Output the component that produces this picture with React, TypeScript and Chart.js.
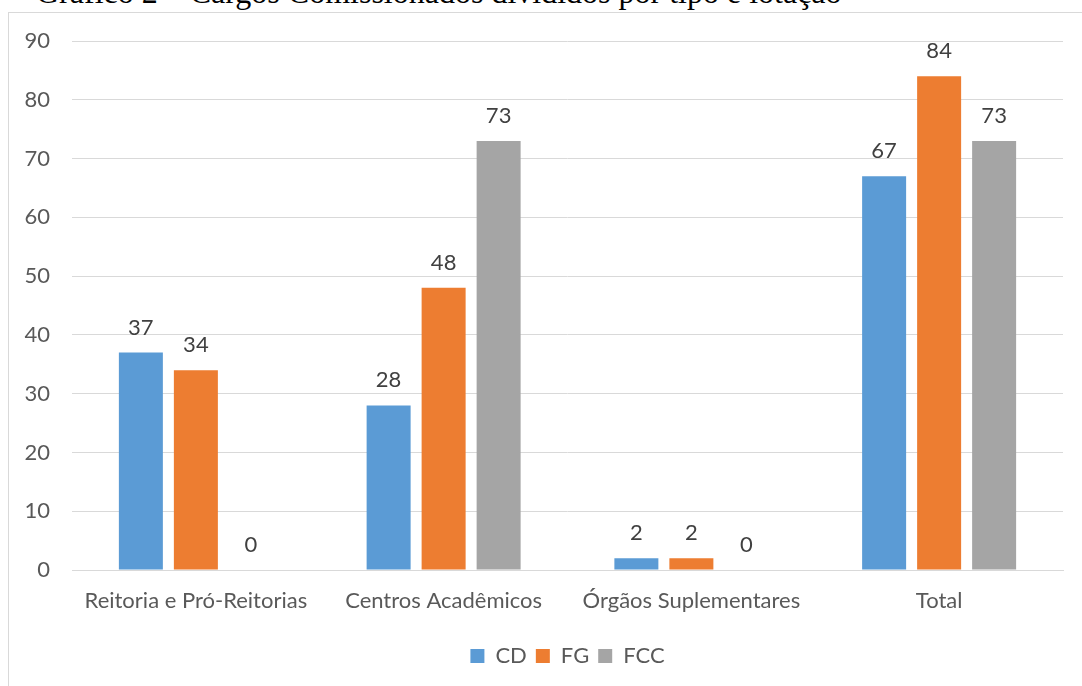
import React, { useEffect, useRef } from "react";
import { Chart, registerables } from "chart.js";

Chart.register(...registerables);

const categories = ["Reitoria e Pró-Reitorias", "Centros Acadêmicos", "Órgãos Suplementares", "Total"];
const cdValues = [37, 28, 2, 67];
const fgValues = [34, 48, 2, 84];
const fccValues = [0, 73, 0, 73];
const seriesNames = ["CD", "FG", "FCC"];
const seriesColors = ["#5B9BD5", "#ED7D31", "#A5A5A5"];
const titleText = "Gráfico 2 – Cargos Comissionados divididos por tipo e lotação";

const FONT = "Lato, 'Open Sans', sans-serif";

const valueLabels = {
  id: "valueLabels",
  afterDatasetsDraw(chart: any) {
    const ctx = chart.ctx;
    ctx.save();
    ctx.font = `22px ${FONT}`;
    ctx.fillStyle = "#404040";
    ctx.textAlign = "center";
    ctx.textBaseline = "alphabetic";
    chart.data.datasets.forEach((ds: any, i: number) => {
      const meta = chart.getDatasetMeta(i);
      meta.data.forEach((bar: any, j: number) => {
        ctx.fillText(String(ds.data[j]), bar.x, bar.y - 18);
      });
    });
    ctx.restore();
  },
};

export default function App() {
  const ref = useRef<HTMLCanvasElement>(null);
  useEffect(() => {
    if (!ref.current) return;
    const chart = new Chart(ref.current, {
      type: "bar",
      data: {
        labels: categories,
        datasets: [cdValues, fgValues, fccValues].map((d, i) => ({
          label: seriesNames[i],
          data: d,
          backgroundColor: seriesColors[i],
          borderWidth: 0,
          barPercentage: 0.8,
          categoryPercentage: 0.666,
        })),
      },
      options: {
        animation: false,
        responsive: false,
        maintainAspectRatio: false,
        layout: { padding: { top: 41, right: 19, bottom: 9, left: 0 } },
        plugins: {
          legend: {
            position: "bottom",
            fullSize: false,
            labels: {
              boxWidth: 14,
              boxHeight: 14,
              padding: 9,
              color: "#595959",
              font: { family: FONT, size: 22 },
            },
          },
          tooltip: { enabled: false },
        },
        scales: {
          x: {
            grid: { display: false, drawTicks: false },
            border: { display: true, color: "#D9D9D9", width: 1 },
            ticks: { color: "#595959", font: { family: FONT, size: 22 }, padding: 18 },
            afterFit: (s: any) => {
              s.height = 66;
            },
          },
          y: {
            min: 0,
            max: 90,
            ticks: { stepSize: 10, color: "#595959", font: { family: FONT, size: 22 }, padding: 22 },
            grid: { color: "#D9D9D9", drawTicks: false },
            border: { display: false },
            afterFit: (s: any) => {
              s.width = 72;
            },
          },
        },
      },
      plugins: [valueLabels],
    });
    return () => chart.destroy();
  }, []);

  return (
    <div style={{ position: "absolute", left: 0, top: 0, width: 1082, height: 686, overflow: "hidden", background: "#fff" }}>
      <div
        style={{
          position: "absolute",
          left: 36,
          top: -24.5,
          fontFamily: "'Liberation Serif', 'Times New Roman', serif",
          fontSize: 32,
          lineHeight: "32px",
          color: "#000",
          whiteSpace: "nowrap",
        }}
      >
        {titleText}
      </div>
      <div
        style={{
          position: "absolute",
          left: 8,
          top: 12,
          width: 1100,
          height: 700,
          border: "1px solid #D9D9D9",
          boxSizing: "border-box",
        }}
      />
      <canvas ref={ref} width={1082} height={686} style={{ position: "absolute", left: 0, top: 0, width: 1082, height: 686 }} />
    </div>
  );
}
